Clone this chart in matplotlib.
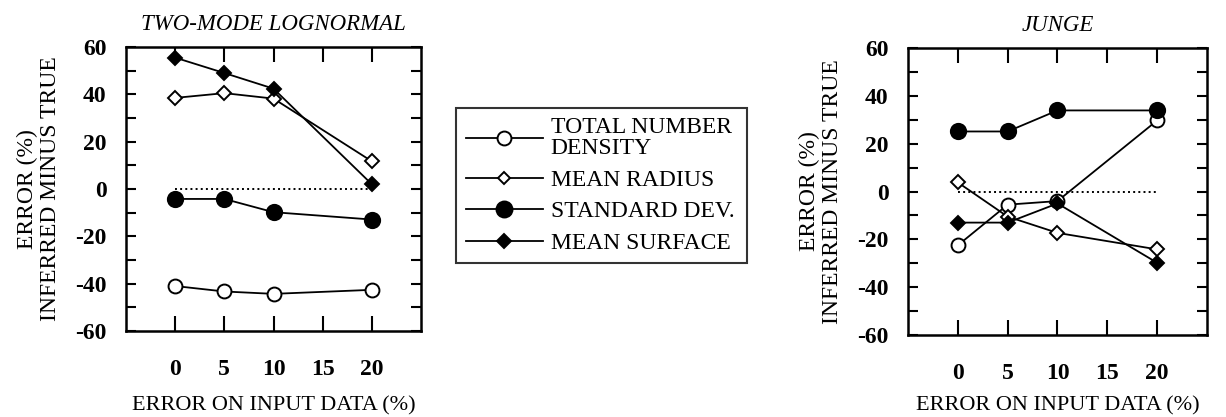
import matplotlib.pyplot as plt
import numpy as np

## Error of inferred size distribution parameters vs. error on input data

plt.rcParams['font.family'] = ['Liberation Serif', 'DejaVu Serif']
plt.rcParams['axes.unicode_minus'] = False

err_input = np.array([0, 5, 10, 20])

# two-mode lognormal
lgn_number = [-41, -43.3, -44.3, -42.6]
lgn_radius = [38.5, 40.5, 38.2, 11.7]
lgn_stdev = [-4.2, -4.2, -9.8, -12.9]
lgn_surface = [55.5, 49, 42.4, 2]

# junge
jng_number = [-22.5, -5.5, -4, 29.7]
jng_radius = [3.8, -10.5, -17.3, -24.2]
jng_stdev = [25.1, 25.1, 33.9, 33.9]
jng_surface = [-13, -13, -5, -29.8]

labels = ['TOTAL NUMBER\nDENSITY', 'MEAN RADIUS', 'STANDARD DEV.', 'MEAN SURFACE']
styles = [dict(marker='o', ms=10, mfc='white'),
          dict(marker='D', ms=7, mfc='white'),
          dict(marker='o', ms=11, mfc='black'),
          dict(marker='D', ms=7.5, mfc='black')]

fig = plt.figure(figsize=(12.26, 4.17), dpi=100)
ax1 = fig.add_axes([0.1028, 0.2062, 0.2406, 0.6811])
ax2 = fig.add_axes([0.7406, 0.1966, 0.2439, 0.6883])


def draw_panel(ax, series, title, xpad):
    lines = []
    for y, st in zip(series, styles):
        ln, = ax.plot(err_input, y, '-', color='black', lw=1.3, mec='black', mew=1.4, **st)
        lines.append(ln)
    ax.plot([0, 20], [0, 0], ':', color='black', lw=1.4)
    ax.set_xlim(-5, 25)
    ax.set_ylim(-60, 60)
    ax.set_xticks([0, 5, 10, 15, 20])
    ax.set_yticks(np.arange(-60, 61, 20))
    ax.set_yticks(np.arange(-50, 60, 20), minor=True)
    ax.tick_params(axis='x', direction='in', length=11, width=1.5, top=True, pad=20, labelsize=17)
    ax.tick_params(axis='y', which='both', direction='in', length=7, width=1.5, right=True, pad=14, labelsize=17)
    for lab in ax.get_xticklabels() + ax.get_yticklabels():
        lab.set_fontweight('bold')
    for sp in ax.spines.values():
        sp.set_linewidth(1.8)
    ax.set_title(title, style='italic', fontsize=16.5, pad=12)
    ax.set_xlabel('ERROR ON INPUT DATA (%)', fontsize=16, labelpad=xpad)
    ax.set_ylabel('ERROR (%)\nINFERRED MINUS TRUE', fontsize=17, labelpad=10, linespacing=1.15)
    return lines


draw_panel(ax1, [lgn_number, lgn_radius, lgn_stdev, lgn_surface], 'TWO-MODE LOGNORMAL', 12)
draw_panel(ax2, [jng_number, jng_radius, jng_stdev, jng_surface], 'JUNGE', 9)

leg_styles = [dict(marker='o', ms=10, mfc='white'),
              dict(marker='D', ms=6, mfc='white'),
              dict(marker='o', ms=11.5, mfc='black'),
              dict(marker='D', ms=7, mfc='black')]
handles = [plt.Line2D([], [], color='black', lw=1.3, mec='black', mew=1.4, **st) for st in leg_styles]
leg = fig.legend(handles, labels, loc='upper left', bbox_to_anchor=(0.372, 0.741, 0.237, 0.0),
                 mode='expand', fontsize=17, frameon=True, fancybox=False, edgecolor='black',
                 handlelength=3.3, handletextpad=0.3, labelspacing=0.42, borderpad=0.4,
                 borderaxespad=0)
leg.get_frame().set_linewidth(1.5)
for t in leg.get_texts():
    t.set_linespacing(1.0)

fig.savefig('out.png', dpi=100)
